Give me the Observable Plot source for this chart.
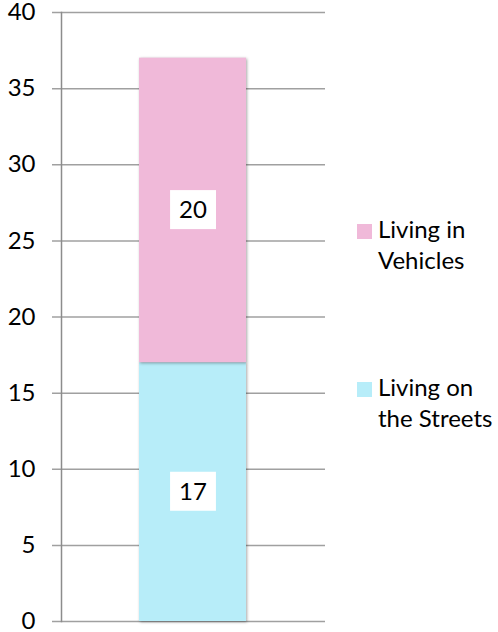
<!DOCTYPE html>
<html>
<head>
<meta charset="utf-8">
<script src="https://cdn.jsdelivr.net/npm/d3@7"></script>
<script src="https://cdn.jsdelivr.net/npm/@observablehq/plot@0.6"></script>
<style>
  body { margin: 0; background: #fff; }
  #wrap { position: relative; width: 498px; height: 632px; font-family: Lato, "Open Sans", sans-serif; }
  #wrap svg { overflow: visible; }
  .legend { position: absolute; left: 357px; font-size: 24px; line-height: 31px; color: #000; }
  .legend .sw { position: absolute; left: 0; width: 15px; height: 15px; }
  .legend .lbl { position: absolute; left: 21px; white-space: nowrap; }
</style>
</head>
<body>
<div id="wrap"></div>
<script>
const categories = ["Living on the Streets", "Living in Vehicles"];
const values = [17, 20];
const colors = ["#b7edf9", "#f0b9d9"];
const yTicks = [0, 5, 10, 15, 20, 25, 30, 35, 40];
const group = "Total";

const data = categories.map((c, i) => ({category: c, value: values[i], group}));

const plot = Plot.plot({
  width: 498,
  height: 632,
  marginLeft: 61,
  marginRight: 173,
  marginTop: 12,
  marginBottom: 11,
  style: {fontFamily: "Lato, 'Open Sans', sans-serif", fontSize: "24px", color: "#000", background: "#fff", overflow: "visible"},
  x: {domain: [group], padding: 0.42, axis: null},
  y: {domain: [0, 40], ticks: yTicks},
  color: {domain: categories, range: colors},
  marks: [
    Plot.ruleY(yTicks, {stroke: "#a0a0a0", strokeWidth: 1.5, insetLeft: -9}),
    Plot.axisY({ticks: yTicks, tickSize: 0, tickPadding: 26, fontSize: 24, fill: "#000", label: null}),
    Plot.barY(data, Plot.stackY({x: "group", y: "value", fill: "category", z: "category", order: categories})),
    Plot.frame({anchor: "left", stroke: "#8c8c8c", strokeWidth: 1.5}),
    Plot.text(data, Plot.stackY({x: "group", y: "value", z: "category", text: "value", order: categories, fill: "#000", fontSize: 24}))
  ]
});

const wrap = document.getElementById("wrap");
wrap.appendChild(plot);

// bar shadow
d3.select(plot).selectAll('g[aria-label="bar"] rect').style("filter", "drop-shadow(1px 1px 1.5px rgba(0,0,0,0.35))");

// white boxes behind segment labels
d3.select(plot).selectAll('g[aria-label="text"] text').each(function() {
  const b = this.getBBox();
  const cx = b.x + b.width / 2, cy = b.y + b.height / 2;
  const w = b.width + 18, h = 39;
  const r = document.createElementNS("http://www.w3.org/2000/svg", "rect");
  r.setAttribute("x", cx - w / 2);
  r.setAttribute("y", cy - h / 2 + 1);
  r.setAttribute("width", w);
  r.setAttribute("height", h);
  r.setAttribute("fill", "#fff");
  const t = this.getAttribute("transform");
  if (t) r.setAttribute("transform", t);
  this.parentNode.insertBefore(r, this);
});

// legend (HTML overlay, colours from the plot's color scale)
const colorScale = plot.scale("color");
const legendItems = [
  {cat: "Living in Vehicles", lines: ["Living in", "Vehicles"], top: 224},
  {cat: "Living on the Streets", lines: ["Living on", "the Streets"], top: 382}
];
for (const it of legendItems) {
  const div = document.createElement("div");
  div.className = "legend";
  div.style.top = it.top + "px";
  const ci = colorScale.domain.indexOf(it.cat);
  div.innerHTML = `<div class="sw" style="background:${colorScale.range[ci]}"></div>` +
    `<div class="lbl" style="top:-11px">${it.lines.join("<br>")}</div>`;
  wrap.appendChild(div);
}
</script>
</body>
</html>
